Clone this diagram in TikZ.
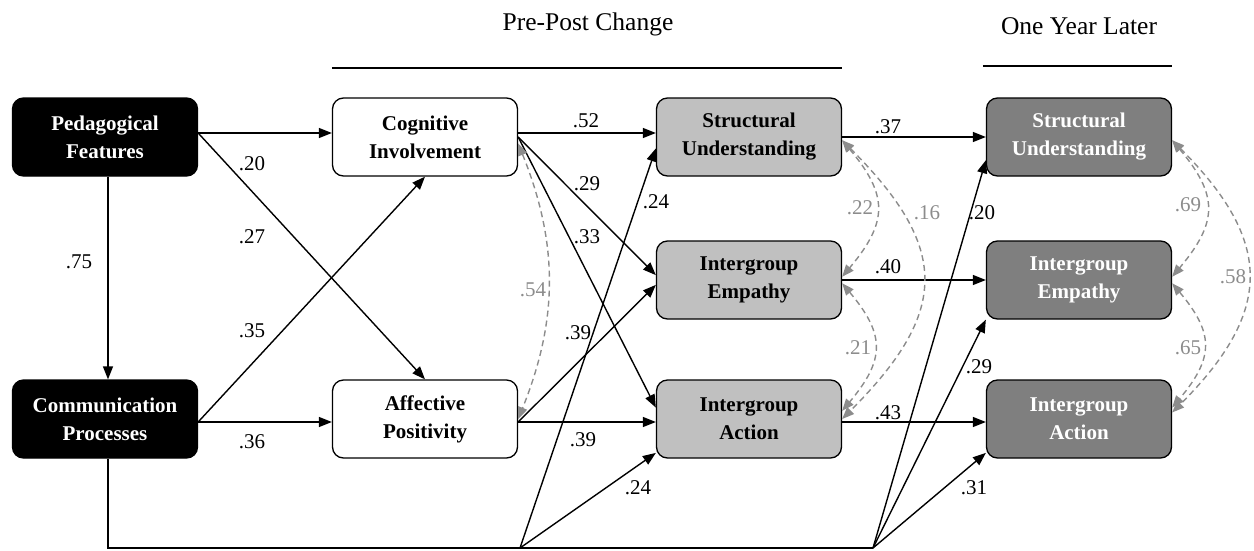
\documentclass[tikz,border=0pt]{standalone}
\usepackage{fontspec}
\setmainfont{Liberation Serif}
\usetikzlibrary{arrows.meta,calc}
\definecolor{boxmid}{HTML}{C0C0C0}
\definecolor{boxdark}{HTML}{7F7F7F}
\definecolor{corrgray}{HTML}{8C8C8C}
\begin{document}
\begin{tikzpicture}[x=1pt,y=1pt,
  box/.style={draw=black,line width=1.3pt,rounded corners=11pt,
    minimum width=185pt,minimum height=78pt,align=center,inner sep=2pt,
    font=\fontsize{21}{28}\selectfont\bfseries},
  srcbox/.style={box,fill=black,text=white},
  medbox/.style={box,fill=white},
  prebox/.style={box,fill=boxmid},
  postbox/.style={box,fill=boxdark,text=white},
  path/.style={line width=1.4pt,-{Triangle[length=13pt,width=10pt]}},
  corr/.style={draw=corrgray,line width=1.4pt,dash pattern=on 6pt off 4pt,
    {Triangle[length=12pt,width=9.5pt]}-{Triangle[length=12pt,width=9.5pt]}},
  coef/.style={font=\fontsize{21}{23}\selectfont,inner sep=0pt},
  gcoef/.style={coef,text=corrgray},
  title/.style={font=\fontsize{25.5}{28}\selectfont,inner sep=0pt,anchor=base},
  rule/.style={line width=2pt}]
\useasboundingbox (0,0) rectangle (1254,-550);

% column titles
\node[title] (t1) at (588,-30) {Pre-Post Change};
\node[title] (t2) at (1079,-34) {One Year Later};

% boxes
\node[srcbox] (pf) at (105,-137) {Pedagogical\\Features};
\node[srcbox] (cp) at (105,-419) {Communication\\Processes};
\node[medbox] (ci) at (425,-137) {Cognitive\\Involvement};
\node[medbox] (ap) at (425,-419) {Affective\\Positivity};
\node[prebox] (su) at (749,-137) {Structural\\Understanding};
\node[prebox] (ie) at (749,-280) {Intergroup\\Empathy};
\node[prebox] (ia) at (749,-419) {Intergroup\\Action};
\node[postbox] (rsu) at (1079,-137) {Structural\\Understanding};
\node[postbox] (rie) at (1079,-280) {Intergroup\\Empathy};
\node[postbox] (ria) at (1079,-419) {Intergroup\\Action};

% rules under the titles
\draw[rule] (ci.west |- 0,-68) -- (su.east |- 0,-68);
\draw[rule] ($(rsu.west |- 0,-66)+(-3,0)$) -- (rsu.east |- 0,-66);

% ports
\coordinate (pfo) at ($(pf.east)+(0,4)$);
\coordinate (pfs) at ($(pf.south)+(3,0)$);
\coordinate (cps) at ($(cp.south)+(3,0)$);
\coordinate (cpo) at ($(cp.east)+(0,-3)$);
\coordinate (cio) at ($(ci.east)+(0,4)$);
\coordinate (apo) at ($(ap.east)+(0,-3)$);
\coordinate (iao) at ($(ia.east)+(0,-3)$);
\coordinate (j1) at (520,-548);
\coordinate (j2) at (873,-548);

% paths
\draw[path] (pfs) -- (pfs |- cp.north);
\draw[path] (pfo) -- (pfo -| ci.west);
\draw[path] (pfo) -- (ap.north);
\draw[path] (cpo) -- (cpo -| ap.west);
\draw[path] (cpo) -- (ci.south);
\draw[path] (cio) -- (cio -| su.west);
\draw[path] (ci.east) -- (ie.177);
\draw[path] (ci.east) -- (ia.173);
\draw[path] (apo) -- (apo -| ia.west);
\draw[path] (apo) -- (ie.183);
\draw[path] (su.east) -- (rsu.west);
\draw[path] (ie.east) -- (rie.west);
\draw[path] (iao) -- (iao -| ria.west);
\draw[line width=1.4pt] (cps) |- (j2);
\draw[path] (j1) -- (su.187);
\draw[path] (j1) -- (ia.200);
\draw[path] (j2) -- (rsu.194);
\draw[path] (j2) -- (rie.south west);
\draw[path] (j2) -- (ria.200);

% correlations
\draw[corr] (ci.-4) to[out=-68,in=68] (ap.east);
\draw[corr] (su.-2) to[out=-50,in=50,looseness=1.35] (ie.2);
\draw[corr] (su.-2) to[out=-45,in=45,looseness=1.4] (ia.east);
\draw[corr] (ie.-2) to[out=-50,in=50,looseness=1.35] (ia.5);
\draw[corr] (rsu.-2) to[out=-50,in=50,looseness=1.35] (rie.2);
\draw[corr] (rsu.-2) to[out=-45,in=45,looseness=1.35] (ria.4);
\draw[corr] (rie.-2) to[out=-50,in=50,looseness=1.35] (ria.7);

% coefficients
\node[coef] (c75) at (79,-262) {.75};
\node[coef] (c20a) at (252,-164) {.20};
\node[coef] (c27) at (252,-237) {.27};
\node[coef] (c35) at (252,-331) {.35};
\node[coef] (c36) at (252,-442) {.36};
\node[coef] (c52) at (586,-121) {.52};
\node[coef] (c29a) at (587,-184) {.29};
\node[coef] (c33) at (587,-237) {.33};
\node[coef] (c24a) at (656,-202) {.24};
\node[coef] (c39a) at (578,-333) {.39};
\node[coef] (c39b) at (583,-440) {.39};
\node[coef] (c24b) at (638,-488) {.24};
\node[coef] (c37) at (888,-127) {.37};
\node[coef] (c40) at (888,-267) {.40};
\node[coef] (c43) at (888,-413) {.43};
\node[coef] (c20b) at (982,-213) {.20};
\node[coef] (c29b) at (979,-367) {.29};
\node[coef] (c31) at (974,-488) {.31};
\node[gcoef] (g54) at (533,-290) {.54};
\node[gcoef] (g22) at (860,-208) {.22};
\node[gcoef] (g16) at (927,-213) {.16};
\node[gcoef] (g21) at (858,-348) {.21};
\node[gcoef] (g69) at (1188,-205) {.69};
\node[gcoef] (g58) at (1233,-277) {.58};
\node[gcoef] (g65) at (1188,-348) {.65};
\end{tikzpicture}
\end{document}
